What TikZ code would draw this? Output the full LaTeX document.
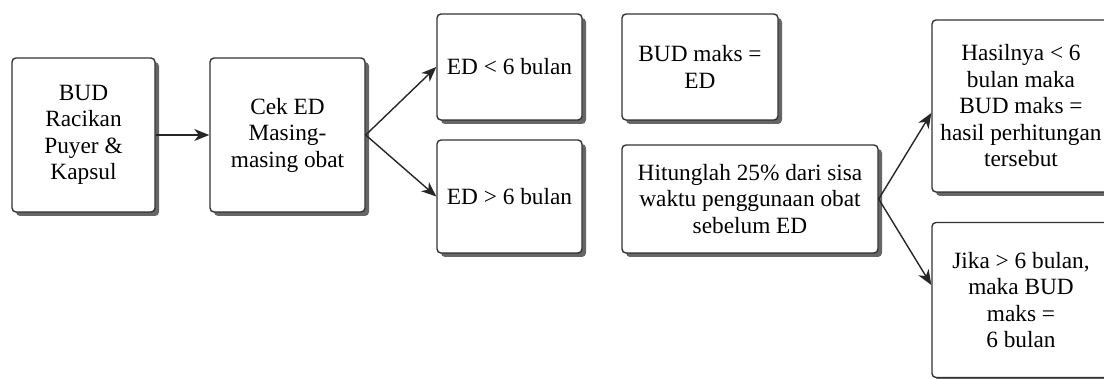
\documentclass[tikz,border=0pt]{standalone}
\usepackage{fontspec}
\setmainfont{Liberation Serif}
\usetikzlibrary{arrows.meta,shadows}

\tikzset{
  box/.style={draw=black!80, line width=1.4pt, rounded corners=4pt, fill=white,
    align=center, inner sep=0pt, font=\fontsize{23.3}{26.5}\selectfont,
    drop shadow={shadow xshift=4pt, shadow yshift=-4pt, fill=black!60, opacity=1}},
  arr/.style={-{Stealth[length=15pt,width=12pt,inset=4.5pt]}, line width=1.4pt, black!85}
}

\begin{document}
\begin{tikzpicture}[x=1pt,y=-1pt]
  \clip (0,0) rectangle (1104,379);

  \node[box, minimum width=143pt, minimum height=154pt] (bud) at (83.5,135) {BUD\\Racikan\\Puyer \&\\Kapsul};
  \node[box, minimum width=155pt, minimum height=154pt] (cek) at (287.5,135) {Cek ED\\Masing-\\masing obat};

  \node[box, minimum width=145pt, minimum height=106pt] (edkurang) at (509.5,67) {ED < 6 bulan};
  \node[box, minimum width=145pt, minimum height=113pt] (edlebih) at (509.5,196.5) {ED > 6 bulan};

  \node[box, minimum width=156pt, minimum height=106pt] (maks) at (700,67) {BUD maks =\\ED};
  \node[box, minimum width=256pt, minimum height=108pt] (hitung) at (750,199) {Hitunglah 25\% dari sisa\\waktu penggunaan obat\\sebelum ED};

  \node[box, minimum width=178pt, minimum height=172pt] (hasil) at (1021,106) {Hasilnya < 6\\bulan maka\\BUD maks =\\hasil perhitungan\\tersebut};
  \node[box, minimum width=178pt, minimum height=155pt] (jika) at (1021,300) {Jika > 6 bulan,\\maka BUD\\maks =\\6 bulan};

  \draw[arr] (bud) -- (cek);
  \draw[arr] (cek.east) -- (edkurang.west);
  \draw[arr] (cek.east) -- (edlebih.west);
  \draw[arr] (hitung.east) -- ([yshift=-7pt]hasil.west);
  \draw[arr] (hitung.east) -- ([yshift=15pt]jika.west);
\end{tikzpicture}
\end{document}
